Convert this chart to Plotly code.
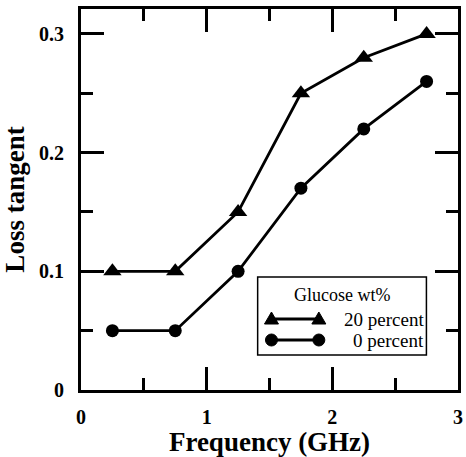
import plotly.graph_objects as go

freq = [0.25, 0.75, 1.25, 1.75, 2.25, 2.75]
loss_20 = [0.10, 0.10, 0.15, 0.25, 0.28, 0.30]
loss_0 = [0.05, 0.05, 0.10, 0.17, 0.22, 0.26]
x_ticks = [0, 1, 2, 3]
y_ticks = [0, 0.1, 0.2, 0.3]
y_tick_text = ["0", "0.1", "0.2", "0.3"]
legend_title = "Glucose wt%"
series_names = ["20 percent", "0 percent"]

W, H = 466, 457
ML, MR, MT, MB = 81, 3, 9, 67
PW, PH = W - ML - MR, H - MT - MB

def px(x):
    return (x - ML) / PW

def py(y):
    return (H - MB - y) / PH

fig = go.Figure()
fig.add_trace(go.Scatter(x=freq, y=loss_20, mode="lines+markers", name=series_names[0],
                         line=dict(color="black", width=2.8),
                         marker=dict(symbol="triangle-up", size=16, color="black")))
fig.add_trace(go.Scatter(x=freq, y=loss_0, mode="lines+markers", name=series_names[1],
                         line=dict(color="black", width=2.8),
                         marker=dict(symbol="circle", size=13, color="black")))

serif = "Liberation Serif, Times New Roman, Times, serif"
axis_common = dict(showline=True, linecolor="black", linewidth=3, mirror="allticks",
                   ticks="inside", ticklen=23, tickwidth=3, tickcolor="black",
                   showgrid=False, zeroline=False,
                   tickfont=dict(family=serif, size=20, color="black", weight="bold"))

fig.update_xaxes(range=[0, 3], tickvals=x_ticks, ticklabelstandoff=7,
                 minor=dict(dtick=0.5, ticks="inside", ticklen=12, tickwidth=3, tickcolor="black", showgrid=False),
                 title=dict(text="Frequency (GHz)", font=dict(family=serif, size=27, color="black", weight="bold"), standoff=5),
                 **axis_common)
fig.update_yaxes(range=[0, 0.321], tickvals=y_ticks, ticktext=y_tick_text, ticklabelstandoff=10,
                 minor=dict(dtick=0.05, ticks="inside", ticklen=12, tickwidth=3, tickcolor="black", showgrid=False),
                 title=dict(text="Loss tangent", font=dict(family=serif, size=27, color="black", weight="bold"), standoff=8),
                 **axis_common)

shapes = []
annotations = []
shapes.append(dict(type="rect", xref="paper", yref="paper", x0=px(260), x1=px(431), y0=py(355), y1=py(277),
                   line=dict(color="black", width=1.5), fillcolor="white", layer="above"))
annotations.append(dict(xref="paper", yref="paper", x=px(345), y=py(295), text=legend_title, showarrow=False,
                        font=dict(family=serif, size=18, color="black"), xanchor="center", yanchor="middle"))
rows = [(319, "tri", series_names[0]), (340, "circ", series_names[1])]
for ry, kind, label in rows:
    shapes.append(dict(type="line", xref="paper", yref="paper", x0=px(274), x1=px(322), y0=py(ry), y1=py(ry),
                       line=dict(color="black", width=2.8), layer="above"))
    for cx in (274, 322):
        if kind == "tri":
            shapes.append(dict(type="path", xref="paper", yref="paper", xsizemode="pixel", ysizemode="pixel",
                               xanchor=px(cx), yanchor=py(ry), path="M -7,-5 L 7,-5 L 0,7 Z",
                               fillcolor="black", line=dict(color="black", width=1), layer="above"))
        else:
            shapes.append(dict(type="circle", xref="paper", yref="paper", xsizemode="pixel", ysizemode="pixel",
                               xanchor=px(cx), yanchor=py(ry), x0=-6, x1=6, y0=-6, y1=6,
                               fillcolor="black", line=dict(color="black", width=1), layer="above"))
    annotations.append(dict(xref="paper", yref="paper", x=px(431), y=py(ry), text=label, showarrow=False,
                            font=dict(family=serif, size=19, color="black"), xanchor="right", yanchor="middle"))

fig.update_layout(width=W, height=H, margin=dict(l=ML, r=MR, t=MT, b=MB),
                  paper_bgcolor="white", plot_bgcolor="white", showlegend=False,
                  font=dict(family=serif, color="black"),
                  shapes=shapes, annotations=annotations)

fig.write_html("out.html", config={"displayModeBar": False},
               post_script="document.body.style.margin='0';document.body.style.overflow='hidden';")
